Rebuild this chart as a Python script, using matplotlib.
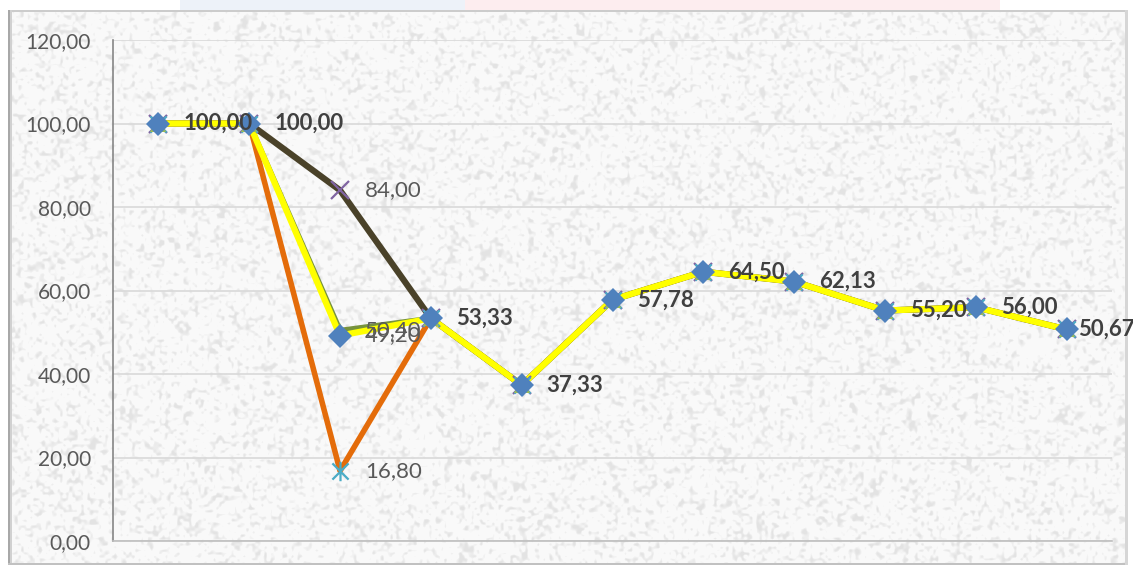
import numpy as np
import matplotlib
matplotlib.use("Agg")
import matplotlib.pyplot as plt
from matplotlib.path import Path
from matplotlib.ticker import FuncFormatter

plt.rcParams['font.family'] = ['Lato', 'DejaVu Sans']

# values per category (11 steps); the four series only differ at step 3
steps = list(range(1, 12))
serie_diamond = [100.00, 100.00, 49.20, 53.33, 37.33, 57.78, 64.50, 62.13, 55.20, 56.00, 50.67]
serie_triangle = [100.00, 100.00, 50.40, 53.33, 37.33, 57.78, 64.50, 62.13, 55.20, 56.00, 50.67]
serie_cross = [100.00, 100.00, 84.00, 53.33, 37.33, 57.78, 64.50, 62.13, 55.20, 56.00, 50.67]
serie_star = [100.00, 100.00, 16.80, 53.33, 37.33, 57.78, 64.50, 62.13, 55.20, 56.00, 50.67]

W, H = 1133, 566
fig = plt.figure(figsize=(W / 100, H / 100), dpi=100)

# paper-like background with a frame
rng = np.random.default_rng(3)
small = rng.random((H // 3 + 2, W // 3 + 2))
grain = np.kron(small, np.ones((3, 3)))[:H, :W]
for _ in range(3):
    grain = (grain + np.roll(grain, 1, 0) + np.roll(grain, -1, 0)
             + np.roll(grain, 1, 1) + np.roll(grain, -1, 1)) / 5
grain = (grain - grain.mean()) / grain.std()
gray = 0.978 - 0.085 * np.clip((grain - 0.3) * 0.6, 0, 1)
img = np.ones((H, W, 3))
x0, x1, y0, y1 = 8, 1128, 10, 565
img[y0:y1, x0:x1, :] = gray[y0:y1, x0:x1, None]
# soft slide colours above the frame
img[:y0, 180:465, :] = [0.93, 0.95, 0.98]
img[:y0, 465:1000, :] = [0.995, 0.93, 0.94]
# frame edges
img[y0:y0 + 2, x0:x1, :] = 0.80
img[y0:y1, x0:x0 + 2, :] = 0.66
img[y0:y1, x0 + 2:x0 + 4, :] = 0.82
img[y1 - 2:y1, x0:x1, :] = 0.76
img[y0:y1, x1 - 3:x1, :] = 0.84

bg = fig.add_axes([0, 0, 1, 1], zorder=-10)
bg.imshow(img, extent=[0, W, 0, H], aspect='auto', interpolation='bilinear')
bg.axis('off')

ax = fig.add_axes([113 / W, 25 / H, 999 / W, 501 / H])
ax.set_facecolor('none')

star = Path([(-1, -1), (1, 1), (-1, 1), (1, -1), (0, -1.2), (0, 1.2)],
            [Path.MOVETO, Path.LINETO] * 3)

# lines
ax.plot(steps, serie_cross, color='#4a4229', lw=4.5, zorder=2.0)
ax.plot(steps, serie_star, color='#e46c0a', lw=4.0, zorder=2.1)
ax.plot(steps, serie_triangle, color='#77933c', lw=4.0, zorder=2.2)
ax.plot(steps, serie_diamond, color='#ffff00', lw=4.5, zorder=2.3)

# markers
ax.plot(steps, serie_cross, ls='none', marker='x', ms=13, mew=1.6, color='#8064a2', zorder=3.0)
ax.plot(steps, serie_star, ls='none', marker=star, ms=14, mew=1.6,
        mfc='none', mec='#4bacc6', zorder=3.05)
ax.plot(steps, serie_triangle, ls='none', marker='^', ms=12, mew=0, color='#9bbb59', zorder=3.1)
ax.plot(steps, serie_diamond, ls='none', marker='D', ms=12.5, mew=0, color='#4f81bd', zorder=3.2)

# data labels: shared values are printed once but in bold
all_series = [serie_diamond, serie_triangle, serie_cross, serie_star]
for i, x in enumerate(steps):
    vals = [s[i] for s in all_series]
    for v in sorted(set(vals)):
        shared = vals.count(v) > 1
        dx = 8 if i == len(steps) - 1 else 18
        ax.annotate(f'{v:.2f}'.replace('.', ','), (x, v), xytext=(dx, 0),
                    textcoords='offset points', ha='left', va='center',
                    fontsize=16, fontweight='bold' if shared else 'normal',
                    color='#404040' if shared else '#595959',
                    zorder=5, clip_on=False, annotation_clip=False)

ax.set_xlim(0.5, 11.5)
ax.set_ylim(0, 120)
ax.set_yticks(np.arange(0, 121, 20))
ax.yaxis.set_major_formatter(FuncFormatter(lambda v, p: f'{v:.2f}'.replace('.', ',')))
ax.set_xticks([])
ax.tick_params(axis='y', length=0, pad=16, labelsize=15, labelcolor='#595959')
ax.grid(axis='y', color='#d9d9d9', lw=1.2)
ax.set_axisbelow(True)
for side in ['top', 'right']:
    ax.spines[side].set_visible(False)
ax.spines['left'].set_color('#868686')
ax.spines['bottom'].set_color('#bfbfbf')
ax.spines['left'].set_linewidth(1.2)
ax.spines['bottom'].set_linewidth(1.2)

fig.savefig('out.png', dpi=100)
